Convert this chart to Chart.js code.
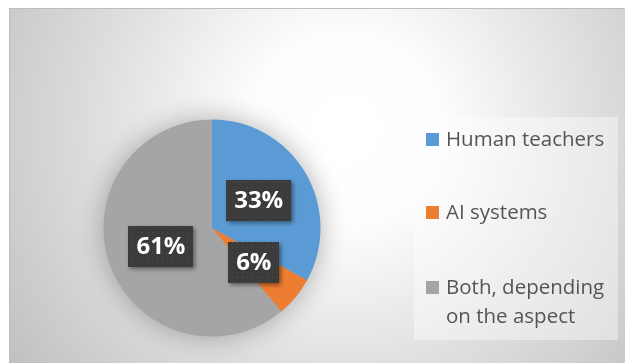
<!DOCTYPE html>
<html>
<head>
<meta charset="utf-8">
<script src="https://cdn.jsdelivr.net/npm/chart.js@4.4.1/dist/chart.umd.min.js"></script>
<style>
  html, body { margin: 0; padding: 0; background: #ffffff; }
  #wrap { width: 625px; height: 363px; position: relative; }
</style>
</head>
<body>
<div id="wrap"><canvas id="pie" width="625" height="363"></canvas></div>
<script>
// Survey answers: who should teach
const categories = ['Human teachers', 'AI systems', 'Both, depending on the aspect'];
const legendLines = [['Human teachers'], ['AI systems'], ['Both, depending', 'on the aspect']];
const shares = [33, 6, 61];
const sliceColors = ['#5B9BD5', '#ED7D31', '#A5A5A5'];

// Small dotted tile used to fill the value boxes
function dotPattern(ctx) {
  const tile = document.createElement('canvas');
  tile.width = 5; tile.height = 5;
  const t = tile.getContext('2d');
  t.fillStyle = '#3b3b3b';
  t.fillRect(0, 0, 5, 5);
  t.fillStyle = '#4d4d4d';
  t.fillRect(2, 2, 1, 1);
  return ctx.createPattern(tile, 'repeat');
}

// Frame with a soft radial fill behind everything
const backdrop = {
  id: 'backdrop',
  beforeDraw(chart) {
    const ctx = chart.ctx;
    ctx.save();
    ctx.fillStyle = '#ffffff';
    ctx.fillRect(0, 0, chart.width, chart.height);
    const g = ctx.createRadialGradient(345, 130, 10, 345, 130, 400);
    g.addColorStop(0, '#ffffff');
    g.addColorStop(0.22, '#fdfdfd');
    g.addColorStop(0.6, '#dfdfdf');
    g.addColorStop(1, '#c2c2c2');
    ctx.fillStyle = g;
    ctx.fillRect(9, 8, chart.width - 9, chart.height - 8);
    ctx.fillStyle = '#bdbdbd';
    ctx.fillRect(9, 8, chart.width - 9, 1);
    ctx.fillRect(9, 8, 1, chart.height - 8);
    // translucent panel behind the legend
    ctx.fillStyle = 'rgba(255,255,255,0.4)';
    ctx.fillRect(414, 117, 204, 223);
    ctx.restore();
  },
  // soft glow under the whole pie
  beforeDatasetsDraw(chart) {
    const arc = chart.getDatasetMeta(0).data[0];
    if (!arc) return;
    const ctx = chart.ctx;
    ctx.save();
    ctx.shadowColor = 'rgba(0,0,0,0.32)';
    ctx.shadowBlur = 28;
    ctx.fillStyle = '#A5A5A5';
    ctx.beginPath();
    ctx.arc(arc.x, arc.y, arc.outerRadius - 1, 0, Math.PI * 2);
    ctx.fill();
    ctx.restore();
  }
};

// Percentage boxes placed at each slice's midpoint
const valueBoxes = {
  id: 'valueBoxes',
  afterDatasetsDraw(chart) {
    const ctx = chart.ctx;
    const meta = chart.getDatasetMeta(0);
    const fill = dotPattern(ctx);
    ctx.save();
    ctx.font = 'bold 24px "Open Sans"';
    ctx.textAlign = 'center';
    ctx.textBaseline = 'middle';
    meta.data.forEach((arc, i) => {
      const p = arc.tooltipPosition();
      const text = shares[i] + '%';
      const w = Math.round(ctx.measureText(text).width) + 16;
      const h = 41;
      const x = Math.round(p.x - w / 2), y = Math.round(p.y - h / 2);
      ctx.save();
      ctx.shadowColor = 'rgba(0,0,0,0.45)';
      ctx.shadowBlur = 4;
      ctx.shadowOffsetX = 2;
      ctx.shadowOffsetY = 2;
      ctx.fillStyle = fill;
      ctx.fillRect(x, y, w, h);
      ctx.restore();
      ctx.fillStyle = '#ffffff';
      ctx.fillText(text, p.x, p.y + 1);
    });
    ctx.restore();
  }
};

// Legend on the right, with wrapped labels
const sideLegend = {
  id: 'sideLegend',
  afterDraw(chart) {
    const ctx = chart.ctx;
    const rows = [140, 213, 288];
    ctx.save();
    ctx.font = '20.5px "Open Sans"';
    ctx.textBaseline = 'middle';
    ctx.textAlign = 'left';
    categories.forEach((c, i) => {
      const y = rows[i];
      ctx.fillStyle = chart.data.datasets[0].backgroundColor[i];
      ctx.fillRect(426, y - 7, 13, 13);
      ctx.fillStyle = '#555555';
      legendLines[i].forEach((line, k) => {
        ctx.fillText(line, 446, y + k * 29);
      });
    });
    ctx.restore();
  }
};

new Chart(document.getElementById('pie'), {
  type: 'pie',
  data: {
    labels: categories,
    datasets: [{
      data: shares,
      backgroundColor: sliceColors,
      borderWidth: 0
    }]
  },
  options: {
    responsive: false,
    animation: false,
    devicePixelRatio: 1,
    layout: { padding: { left: 103.5, right: 304.5, top: 119.5, bottom: 26.5 } },
    plugins: {
      legend: { display: false },
      tooltip: { enabled: false }
    }
  },
  plugins: [backdrop, valueBoxes, sideLegend]
});
</script>
</body>
</html>
